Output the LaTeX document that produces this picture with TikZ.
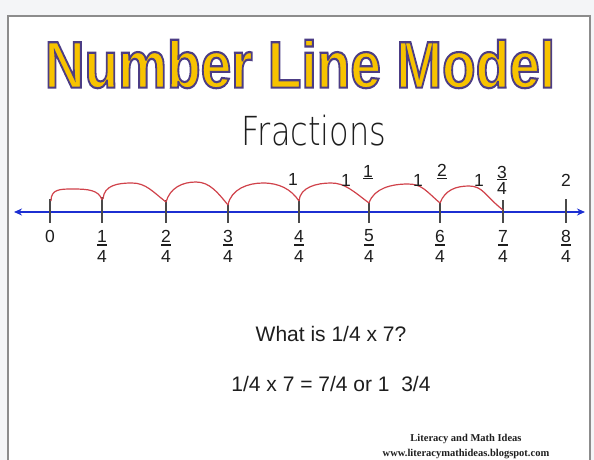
\documentclass[tikz,border=0pt]{standalone}
\usepackage{fontspec}
\setmainfont{Liberation Sans}
\newfontfamily\handfont{DejaVu Sans ExtraLight}
\newfontfamily\footfont{Liberation Serif}
\usetikzlibrary{arrows.meta}
\definecolor{bgstrip}{HTML}{F4F5F7}
\definecolor{framegray}{HTML}{8C8C8C}
\definecolor{titleyellow}{HTML}{F7C300}
\definecolor{lineblue}{HTML}{1C2FD2}
\definecolor{arcred}{HTML}{D0424A}
\definecolor{tickgray}{HTML}{4A4A4A}
\definecolor{txt}{HTML}{1E1E1E}
\tikzset{
  lab/.style={inner sep=0pt, text=txt, font=\fontsize{17.5}{17.5}\selectfont},
  fbar/.style={draw=txt, line width=1.2pt},
  tickmark/.style={draw=tickgray, line width=1.6pt},
  hop/.style={draw=arcred, line width=1.2pt},
  numline/.style={draw=lineblue, line width=2pt},
  question/.style={inner sep=0pt, text=txt, font=\fontsize{21}{21}\selectfont},
}
\begin{document}
\begin{tikzpicture}[x=1pt,y=-1pt]
\useasboundingbox (0,0) rectangle (594,460);
\fill[bgstrip] (0,0) rectangle (594,460);
\draw[fill=white, draw=framegray, line width=1.5pt] (8,16) rectangle (590,475);

% number line
\coordinate (L) at (14,212);
\coordinate (R) at (585,212);
\draw[numline, {Stealth[length=8pt,width=7pt]}-{Stealth[length=8pt,width=7pt]}] (L) -- (R);

% ticks
\foreach \x/\t in {50/199,102/197,166/200,228/204,299/199,369/202,440/202,503/200,566/199}
  \draw[tickmark] (\x,\t) -- (\x,223);

% hops
\draw[hop] (51,201) .. controls +(0,-12) and +(-13,0) .. (73,189) .. controls +(15,0) and +(-3,-10) .. (102,200);
\draw[hop] (103,199) .. controls +(1,-14) and +(-14,0) .. (132,183) .. controls +(14,0) and +(-13,-10) .. (166,202);
\draw[hop] (166,202) .. controls +(4,-14) and +(-14,0) .. (196,182) .. controls +(14,0) and +(-10,-12) .. (228,205);
\draw[hop] (228,205) .. controls +(3,-16) and +(-15,0) .. (263,183) .. controls +(16,0) and +(-8,-12) .. (299,201);
\draw[hop] (299,201) .. controls +(1,-14) and +(-14,0) .. (331,183) .. controls +(14,0) and +(-16,-12) .. (369,203);
\draw[hop] (369,203) .. controls +(5,-15) and +(-16,0) .. (408,184) .. controls +(14,0) and +(-14,-12) .. (440,203);
\draw[hop] (440,203) .. controls +(5,-13) and +(-13,0) .. (469,186) .. controls +(14,0) and +(-18,-14) .. (503,210);

% labels below
\node[lab] (z0) at (50,236) {0};
\foreach \i/\x in {1/102,2/166,3/228,4/299,5/369,6/440,7/503,8/566} {
  \node[lab] (n\i) at (\x,236) {\i};
  \node[lab] (d\i) at (\x,256) {4};
  \draw[fbar] (\x-5,245) -- (\x+5,245);
}

% labels above
\node[lab] (a4) at (293,179) {1};
\node[lab] (a5w) at (346,180) {1};
\node[lab] (a5n) at (368,171) {1};
\draw[fbar] (363,178.5) -- (373,178.5);
\node[lab] (a6w) at (418,180) {1};
\node[lab] (a6n) at (442,170) {2};
\draw[fbar] (437,178.5) -- (447,178.5);
\node[lab] (a7w) at (479,180) {1};
\node[lab] (a7n) at (502,172) {3};
\draw[fbar] (497,179.5) -- (507,179.5);
\node[lab] (a7d) at (502,188) {4};
\node[lab] (a8) at (566,180) {2};

% texts
\node[inner sep=0pt, text=txt, xscale=0.8, font=\handfont\fontsize{40}{40}\selectfont] (sub) at (314,131) {Fractions};
\node[question] (q1) at (331,334) {What is 1/4 x 7?};
\node[question] (q2) at (331,384) {1/4 x 7 = 7/4 or 1\ \ 3/4};
\node[inner sep=0pt, text=txt, align=center, font=\footfont\bfseries\fontsize{10.5}{15}\selectfont] (foot) at (466,447) {Literacy and Math Ideas\\www.literacymathideas.blogspot.com};

% title
\node[inner sep=0pt, xscale=1.0, yscale=1.2, font=\bfseries\fontsize{55}{55}\selectfont] (title) at (300,64)
  {\color{titleyellow}\special{pdf:literal direct 2 Tr 1.8 w 0.30 0.24 0.52 RG}Number Line Model\special{pdf:literal direct 0 Tr}};
\end{tikzpicture}
\end{document}
